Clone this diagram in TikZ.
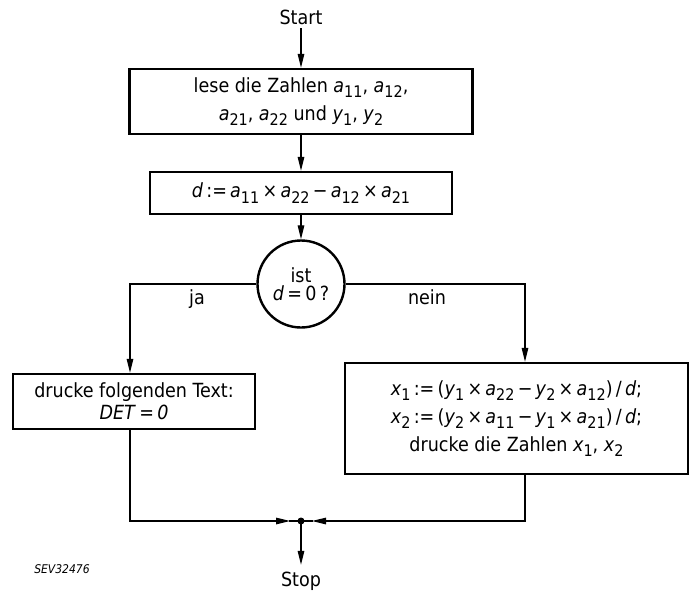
\documentclass[tikz,border=0pt]{standalone}
\usepackage{fontspec}
\setmainfont{DejaVu Sans Condensed}
\usetikzlibrary{arrows.meta}
\newcommand{\ix}[2]{\textit{#1}\raisebox{-0.5ex}{\fontsize{16}{16}\selectfont #2}}

\begin{document}
\begin{tikzpicture}[x=1pt, y=-1pt, line width=1.3pt,
    font=\fontsize{19.5}{28}\selectfont,
    box/.style={draw, line width=2.2pt, align=center, inner sep=0pt},
    flow/.style={-{Triangle[length=14pt, width=6.5pt]}}]
\useasboundingbox (0,0) rectangle (690,594);

\node (start) at (301,17) {Start};
\node[box, minimum width=343pt, minimum height=65pt] (read) at (301,101.5)
    {lese die Zahlen \ix{a}{11}, \ix{a}{12},\\ \ix{a}{21}, \ix{a}{22} und \ix{y}{1}, \ix{y}{2}};
\node[box, minimum width=302pt, minimum height=42pt] (det) at (301,193)
    {\textit{d}\,:=\,\ix{a}{11}\,×\,\ix{a}{22}\,−\,\ix{a}{12}\,×\,\ix{a}{21}};
\node[draw, circle, line width=2.4pt, minimum size=87pt, inner sep=0pt, align=center,
    font=\fontsize{19.5}{18}\selectfont] (test) at (301,284)
    {ist\\ \textit{d}\,=\,0\,?};
\node[box, minimum width=242pt, minimum height=55pt,
    font=\fontsize{19.5}{22}\selectfont] (err) at (134,401.5)
    {drucke folgenden Text:\\ \textit{DET}\,=\,\textit{0}};
\node[box, minimum width=343pt, minimum height=111pt] (solve) at (516.5,418.5)
    {\ix{x}{1}\,:=\,(\ix{y}{1}\,×\,\ix{a}{22}\,−\,\ix{y}{2}\,×\,\ix{a}{12})\,/\,\textit{d};\\
     \ix{x}{2}\,:=\,(\ix{y}{2}\,×\,\ix{a}{11}\,−\,\ix{y}{1}\,×\,\ix{a}{21})\,/\,\textit{d};\\
     drucke die Zahlen \ix{x}{1}, \ix{x}{2}};
\coordinate (join) at (301,521);
\node (stop) at (301,581) {Stop};
\node (ja) at (197,299) {ja};
\node (nein) at (427,297) {nein};
\node[font=\fontsize{12}{14}\selectfont\itshape] (code) at (62,569) {SEV32476};

\draw[flow] (start) -- (read);
\draw[flow] (read) -- (det);
\draw[flow] (det) -- (test);
\draw[flow] (test.west) -| ([xshift=-4pt]err.north);
\draw[flow] (test.east) -| ([xshift=8.5pt]solve.north);
\draw[flow, shorten >=11pt] ([xshift=-4pt]err.south) |- (join);
\draw[flow, shorten >=11pt] ([xshift=8.5pt]solve.south) |- (join);
\draw ([xshift=-12pt]join) -- ([xshift=12pt]join);
\fill (join) circle (3.5pt);
\draw[flow, shorten >=3pt] (join) -- (stop);
\end{tikzpicture}
\end{document}
